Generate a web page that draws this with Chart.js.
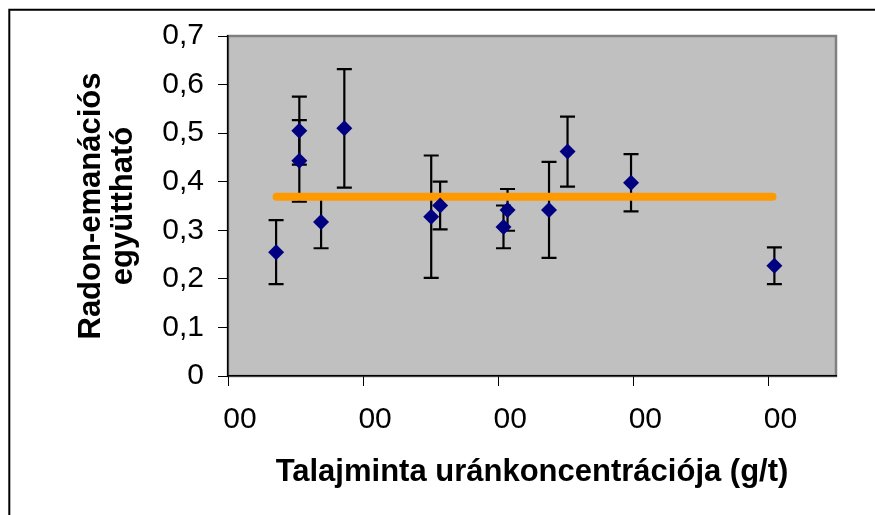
<!DOCTYPE html>
<html>
<head>
<meta charset="utf-8">
<script src="https://cdn.jsdelivr.net/npm/chart.js@4"></script>
<style>
  html, body { margin: 0; padding: 0; background: #fff; }
  #wrap { position: relative; width: 875px; height: 515px; }
</style>
</head>
<body>
<div id="wrap"><canvas id="c"></canvas></div>
<script>
// ---- data ----
const xValues = [0.356, 0.528, 0.528, 0.689, 0.861, 1.504, 1.570, 2.039, 2.069, 2.376, 2.513, 2.983, 4.044];
const yValues = [0.255, 0.505, 0.443, 0.317, 0.510, 0.328, 0.351, 0.307, 0.342, 0.342, 0.462, 0.398, 0.227];
const yErrors = [0.066, 0.070, 0.084, 0.054, 0.122, 0.126, 0.049, 0.044, 0.043, 0.099, 0.072, 0.059, 0.038];
const meanLineX = [0.36, 4.03];
const meanLineY = [0.369, 0.369];
const yTickLabels = ['0', '0,1', '0,2', '0,3', '0,4', '0,5', '0,6', '0,7'];
const xTickLabels = ['00', '00', '00', '00', '00'];
const yTitle = ['Radon-emanációs', 'együttható'];
const xTitle = 'Talajminta uránkoncentrációja (g/t)';

const FONT = "'Liberation Sans', Arial, sans-serif";

const plotBg = {
  id: 'plotBg',
  beforeDraw(chart) {
    const {ctx, chartArea: a} = chart;
    ctx.save();
    ctx.fillStyle = '#C0C0C0';
    ctx.fillRect(a.left, a.top, a.right - a.left, a.bottom - a.top);
    ctx.strokeStyle = '#808080';
    ctx.lineWidth = 2.5;
    ctx.strokeRect(a.left, a.top, a.right - a.left, a.bottom - a.top);
    ctx.restore();
  },
  afterDraw(chart) {
    const ctx = chart.ctx;
    ctx.save();
    ctx.strokeStyle = '#000';
    ctx.lineWidth = 2;
    ctx.beginPath();
    ctx.moveTo(9.3, chart.height);
    ctx.lineTo(9.3, 9.7);
    ctx.lineTo(chart.width, 9.7);
    ctx.stroke();
    ctx.restore();
  }
};

const errorBars = {
  id: 'errorBars',
  beforeDatasetsDraw(chart) {
    const ctx = chart.ctx;
    const xs = chart.scales.x, ys = chart.scales.y;
    ctx.save();
    ctx.strokeStyle = '#000';
    ctx.lineWidth = 2.2;
    const cap = 7.5;
    for (let i = 0; i < xValues.length; i++) {
      const px = xs.getPixelForValue(xValues[i]);
      const pt = ys.getPixelForValue(yValues[i] + yErrors[i]);
      const pb = ys.getPixelForValue(yValues[i] - yErrors[i]);
      ctx.beginPath();
      ctx.moveTo(px, pt); ctx.lineTo(px, pb);
      ctx.moveTo(px - cap, pt); ctx.lineTo(px + cap, pt);
      ctx.moveTo(px - cap, pb); ctx.lineTo(px + cap, pb);
      ctx.stroke();
    }
    ctx.restore();
  }
};

new Chart(document.getElementById('c'), {
  data: {
    datasets: [
      {
        type: 'scatter',
        data: xValues.map((x, i) => ({x, y: yValues[i]})),
        pointStyle: 'rectRot',
        pointRadius: 8,
        pointBorderWidth: 0,
        backgroundColor: '#000080',
        borderColor: '#000080',
        order: 0
      },
      {
        type: 'line',
        data: meanLineX.map((x, i) => ({x, y: meanLineY[i]})),
        borderColor: '#FF9900',
        borderWidth: 8,
        borderCapStyle: 'round',
        pointRadius: 0,
        fill: false,
        order: 1
      }
    ]
  },
  options: {
    responsive: true,
    maintainAspectRatio: false,
    animation: false,
    events: [],
    layout: { padding: { left: 0, top: 36, right: 39, bottom: 0 } },
    plugins: { legend: { display: false }, tooltip: { enabled: false } },
    scales: {
      x: {
        type: 'linear',
        position: 'bottom',
        min: 0, max: 4.5,
        afterFit(axis) { axis.height = 139; },
        border: { display: true, color: '#000', width: 1.5 },
        grid: { drawOnChartArea: false, drawTicks: true, tickLength: 10, color: '#000', lineWidth: 1 },
        ticks: {
          stepSize: 1,
          includeBounds: false,
          labelOffset: 12,
          padding: 16,
          color: '#000',
          font: { family: FONT, size: 30 },
          maxRotation: 0,
          autoSkip: false,
          callback: (v, i) => xTickLabels[i]
        },
        title: {
          display: true,
          text: xTitle,
          color: '#000',
          font: { family: FONT, size: 31, weight: 'bold' },
          padding: { top: 0, bottom: 24 }
        }
      },
      y: {
        type: 'linear',
        position: 'left',
        min: 0, max: 0.7,
        afterFit(axis) { axis.width = 228; },
        border: { display: true, color: '#000', width: 1.5 },
        grid: { drawOnChartArea: false, drawTicks: true, tickLength: 10, color: '#000', lineWidth: 1 },
        ticks: {
          stepSize: 0.1,
          padding: 14,
          color: '#000',
          font: { family: FONT, size: 30 },
          callback: (v, i) => yTickLabels[i]
        },
        title: {
          display: true,
          text: yTitle,
          color: '#000',
          font: { family: FONT, size: 31, weight: 'bold', lineHeight: 1.05 },
          padding: { top: 75, bottom: 0 }
        }
      }
    }
  },
  plugins: [plotBg, errorBars]
});
</script>
</body>
</html>
